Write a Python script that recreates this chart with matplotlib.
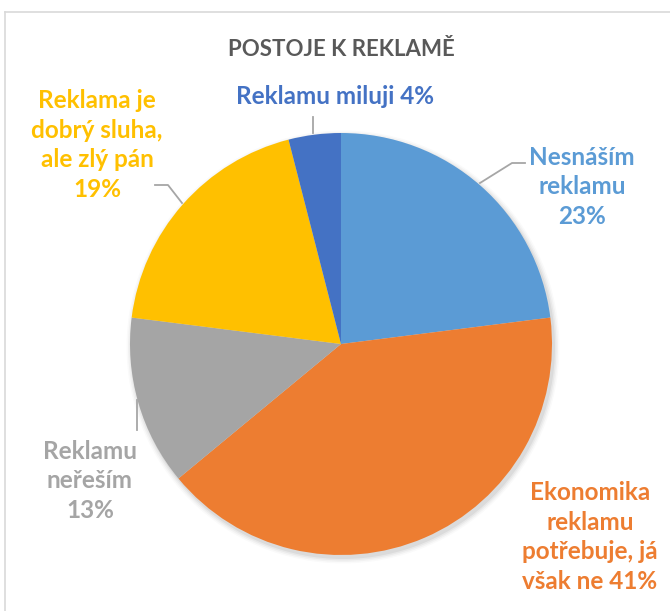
import matplotlib
matplotlib.use("Agg")
import matplotlib.pyplot as plt
from matplotlib.patches import Circle

# Survey results: attitudes to advertising (share of respondents, %)
categories = [
    "Nesnáším\nreklamu",
    "Ekonomika\nreklamu\npotřebuje, já\nvšak ne",
    "Reklamu\nneřeším",
    "Reklama je\ndobrý sluha,\nale zlý pán",
    "Reklamu miluji",
]
values = [23, 41, 13, 19, 4]
colors = ["#5B9BD5", "#ED7D31", "#A5A5A5", "#FFC000", "#4472C4"]
title = "POSTOJE K REKLAMĚ"

W, H = 670, 611
fig = plt.figure(figsize=(W / 100, H / 100), dpi=100)
ax = fig.add_axes([0, 0, 1, 1])

FONT = ["Lato", "DejaVu Sans"]

cx, cy, r = 341, H - 344, 211

# soft drop shadow under the pie
for i, a in enumerate([0.05, 0.04, 0.03, 0.02]):
    ax.add_patch(Circle((cx + 2, cy - 3), r + 1 + i * 1.5, color="#000000",
                        alpha=a, lw=0, zorder=1))

ax.pie(values, colors=colors, startangle=90, counterclock=False,
       center=(cx, cy), radius=r, frame=True,
       wedgeprops=dict(linewidth=0, zorder=2))
ax.set_xlim(0, W)
ax.set_ylim(0, H)
ax.set_aspect("equal")
ax.axis("off")

# chart frame (left and top edges visible)
ax.plot([5, 5], [0, H - 12], color="#D9D9D9", lw=1.2)
ax.plot([5, W], [H - 12, H - 12], color="#D9D9D9", lw=1.2)

ax.text(341, H - 50, title, ha="center", va="center", fontsize=16,
        fontweight="bold", color="#595959", family=FONT)

# data labels: (x, y) of label block centre
label_pos = [(582, H - 187), (590, H - 537), (90, H - 481), (97, H - 145), (335, H - 97)]
for cat, val, col, (lx, ly) in zip(categories, values, colors, label_pos):
    sep = " " if cat.count("\n") == 0 or cat.endswith("ne") else "\n"
    ax.text(lx, ly, f"{cat}{sep}{val}%", ha="center", va="center",
            fontsize=17.5, fontweight="bold", color=col, family=FONT,
            linespacing=1.34)

# leader lines
lc = "#A6A6A6"
ax.plot([480, 512, 525], [H - 183, H - 163, H - 163], color=lc, lw=1.3, zorder=3)
ax.plot([313, 313], [H - 133, H - 117], color=lc, lw=1.3, zorder=3)
ax.plot([155, 168, 182], [H - 185, H - 185, H - 203], color=lc, lw=1.3, zorder=3)
ax.plot([137, 137], [H - 430, H - 400], color=lc, lw=1.3, zorder=3)

fig.savefig("out.png", dpi=100)
